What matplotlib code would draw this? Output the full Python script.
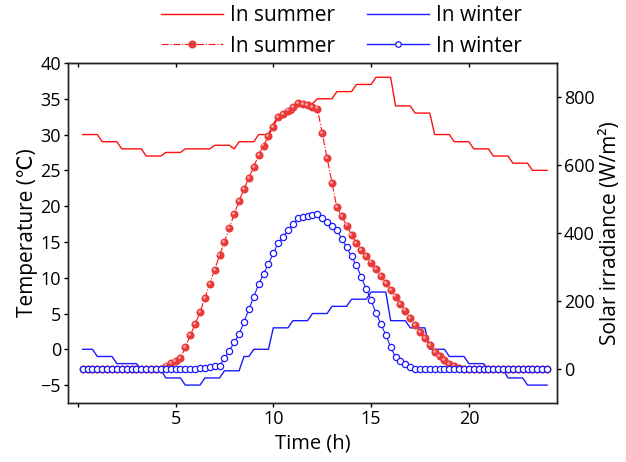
import numpy as np
import matplotlib
matplotlib.use("Agg")
import matplotlib.pyplot as plt
from matplotlib.lines import Line2D
from matplotlib.transforms import offset_copy

plt.rcParams['font.family'] = ['Open Sans', 'DejaVu Sans']

# quarter-hour sampling for irradiance
time_q = np.arange(1, 97) * 0.25

summer_irr = [0] * 17 + [
    10, 17, 23, 31, 64, 99, 132, 167, 209, 251, 292, 334,
    374, 415, 455, 495, 529, 562, 595, 630, 657, 685, 712, 741,
    751, 760, 770, 781, 778, 776, 771, 766, 694, 620, 548, 475,
    449, 422, 395, 370, 350, 332, 313, 295, 274, 254, 233, 213,
    192, 172, 150, 130, 109, 90, 70, 51, 38, 26, 15, 8, 3,
] + [0] * 18

winter_irr = [0] * 24 + [
    2, 4, 6, 8, 9, 31, 54, 78, 102, 139, 175, 213,
    249, 280, 309, 341, 370, 389, 408, 426, 443, 448, 451, 453,
    456, 443, 431, 420, 409, 383, 358, 331, 305, 270, 236, 202,
    165, 132, 100, 65, 34, 24, 15, 7,
] + [0] * 28

# stepped ambient temperature (vertices)
summer_temp_t = [0.25, 1.0, 1.25, 2.0, 2.25, 3.25, 3.5, 4.25, 4.5, 5.25,
                 5.5, 6.75, 7.0, 7.75, 8.0, 8.25, 9.0, 9.25, 9.75, 10.0,
                 10.25, 10.75, 11.0, 11.25, 12.0, 12.25, 13.0, 13.25, 14.0, 14.25,
                 15.0, 15.25, 16.0, 16.25, 17.0, 17.25, 18.0, 18.25, 19.0, 19.25,
                 20.0, 20.25, 21.0, 21.25, 22.0, 22.25, 23.0, 23.25, 24.0]
summer_temp = [30, 30, 29, 29, 28, 28, 27, 27, 27.5, 27.5,
               28, 28, 28.5, 28.5, 28, 29, 29, 30, 30, 31.5,
               32.5, 33, 33, 34.3, 34.3, 35, 35, 36, 36, 37,
               37, 38, 38, 34, 34, 33, 33, 30, 30, 29,
               29, 28, 28, 27, 27, 26, 26, 25, 25]

winter_temp_t = [0.25, 0.75, 1.0, 1.75, 2.0, 3.0, 3.25, 4.25, 4.5, 5.25,
                 5.5, 6.25, 6.5, 7.25, 7.5, 8.25, 8.5, 8.75, 9.0, 9.75,
                 10.0, 10.75, 11.0, 11.75, 12.0, 12.75, 13.0, 13.75, 14.0, 14.75,
                 15.0, 15.75, 16.0, 16.75, 17.0, 17.75, 18.0, 18.75, 19.0, 19.75,
                 20.0, 20.75, 21.0, 21.75, 22.0, 22.75, 23.0, 24.0]
winter_temp = [0, 0, -1, -1, -2, -2, -2.8, -2.8, -4, -4,
               -5, -5, -4, -4, -3, -3, -1, -1, 0, 0,
               3, 3, 4, 4, 5, 5, 6, 6, 7, 7,
               8, 8, 4, 4, 3, 3, 0, 0, -1, -1,
               -2, -2, -2.8, -2.8, -4, -4, -5, -5]

x_ticks = [0, 5, 10, 15, 20]
x_labels = ['', '5', '10', '15', '20']
red = '#ff0f0f'
sphere = '#ea3b3b'
blue = '#1a1aff'

fig = plt.figure(figsize=(6.26, 4.62), dpi=100)
ax = fig.add_axes([0.1086, 0.1277, 0.781, 0.736])
ax2 = ax.twinx()

ax.plot(summer_temp_t, summer_temp, color=red, lw=1.0)
ax.plot(winter_temp_t, winter_temp, color=blue, lw=1.0)

ax2.plot(time_q, summer_irr, color=red, lw=0.8, ls='-.',
         marker='o', ms=5.8, mfc=sphere, mec=sphere, mew=0)
hl = offset_copy(ax2.transData, fig=fig, x=-0.8, y=0.8, units='points')
ax2.plot(time_q, summer_irr, ls='none', marker='o', ms=2.0,
         mfc='white', mec='none', alpha=0.55, transform=hl)
ax2.plot(time_q, winter_irr, color=blue, lw=0.8,
         marker='o', ms=4.5, mfc='white', mec=blue, mew=0.9)

ax.set_xlim(-0.5, 24.5)
ax.set_ylim(-7.5, 40)
ax2.set_ylim(-100, 900)
ax.set_xticks(x_ticks)
ax.set_xticklabels(x_labels)
ax.set_yticks(np.arange(-5, 41, 5))
ax2.set_yticks([0, 200, 400, 600, 800])

for a in (ax, ax2):
    for s in a.spines.values():
        s.set_linewidth(1.0)
        s.set_color('#222222')
ax.tick_params(axis='both', direction='out', length=3, width=1, labelsize=13, pad=2)
ax2.tick_params(axis='y', direction='out', length=3, width=1, labelsize=13, pad=2)

top = ax.secondary_xaxis('top')
top.set_xticks(x_ticks)
top.tick_params(direction='in', length=3, width=1, labeltop=False)

ax.set_xlabel('Time (h)', fontsize=14.5, labelpad=4)
ax.set_ylabel('Temperature (℃)', fontsize=15, labelpad=2)
ax2.set_ylabel('Solar irradiance (W/m²)', fontsize=15, labelpad=4)

handles = [
    Line2D([], [], color=red, lw=1.0),
    Line2D([], [], color=red, lw=0.8, ls='-.', marker='o', ms=5.8, mfc=sphere, mec=sphere, mew=0),
    Line2D([], [], color=blue, lw=1.0),
    Line2D([], [], color=blue, lw=1.0, marker='o', ms=4, mfc='white', mec=blue, mew=0.9),
]
labels = ['In summer', 'In summer', 'In winter', 'In winter']
fig.legend(handles, labels, ncol=2, loc='center', bbox_to_anchor=(0.5455, 0.933),
           frameon=False, fontsize=15, handlelength=3.0, handletextpad=0.35,
           columnspacing=1.5, labelspacing=0.45, borderpad=0, numpoints=1)

fig.savefig('out.png', dpi=100)
